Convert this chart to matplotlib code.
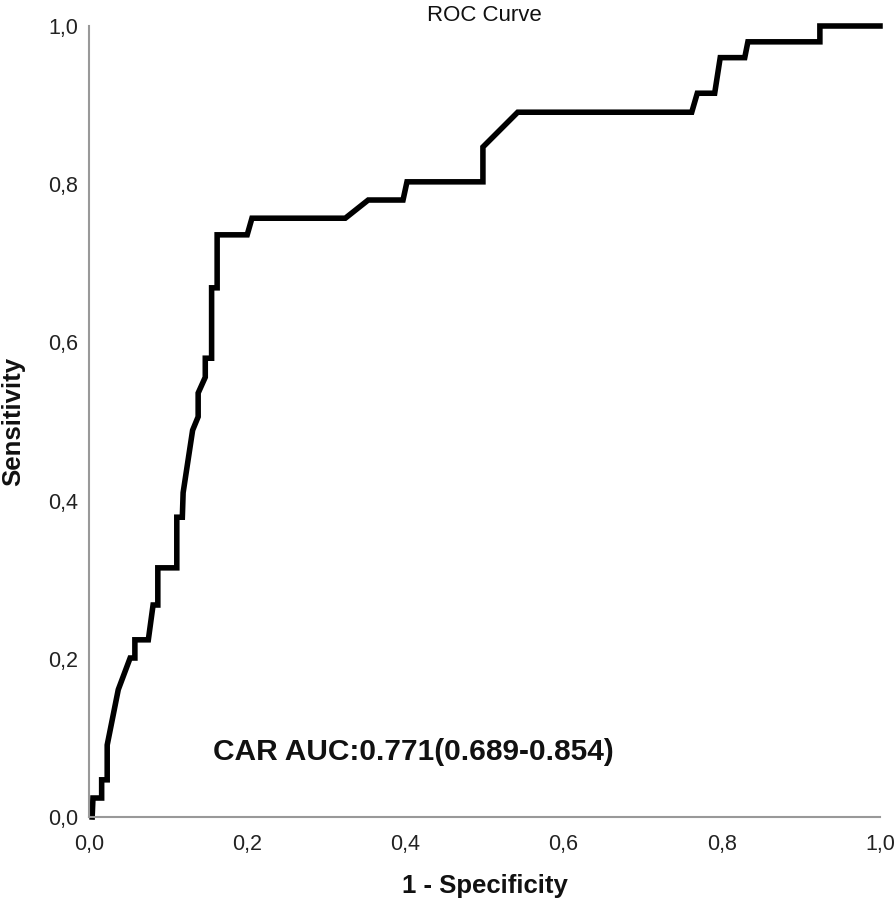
import matplotlib
matplotlib.use('Agg')
import matplotlib.pyplot as plt

# ROC curve points
fpr = [0.004, 0.005, 0.016, 0.016, 0.023, 0.023, 0.037, 0.052, 0.058, 0.058, 0.075,
       0.081, 0.087, 0.087, 0.111, 0.111, 0.118, 0.119, 0.131, 0.138, 0.138, 0.147,
       0.147, 0.155, 0.155, 0.162, 0.162, 0.200, 0.206, 0.324, 0.353, 0.397, 0.402,
       0.498, 0.498, 0.542, 0.762, 0.769, 0.791, 0.798, 0.829, 0.833, 0.924, 0.924, 1.0]
tpr = [0.0, 0.024, 0.024, 0.047, 0.047, 0.091, 0.161, 0.201, 0.201, 0.224, 0.224,
       0.268, 0.268, 0.315, 0.315, 0.379, 0.379, 0.410, 0.489, 0.506, 0.536, 0.556,
       0.580, 0.580, 0.669, 0.669, 0.736, 0.736, 0.757, 0.757, 0.780, 0.780, 0.803,
       0.803, 0.847, 0.891, 0.891, 0.915, 0.915, 0.960, 0.960, 0.980, 0.980, 1.0, 1.0]
ticks = [0.0, 0.2, 0.4, 0.6, 0.8, 1.0]
tick_labels = ['0,0', '0,2', '0,4', '0,6', '0,8', '1,0']

plt.rcParams['font.family'] = ['Liberation Sans', 'DejaVu Sans']

fig = plt.figure(figsize=(8.96, 8.99), dpi=100)
ax = fig.add_axes([89/896, 82/899, 791/896, 791/899])

ax.plot(fpr, tpr, color='black', lw=4.0, clip_on=False, solid_joinstyle='miter')

ax.set_xlim(0, 1)
ax.set_ylim(0, 1)
ax.set_xticks(ticks)
ax.set_xticklabels(tick_labels)
ax.set_yticks(ticks)
ax.set_yticklabels(tick_labels)
ax.tick_params(length=0, labelsize=15.5, colors='#222222')
ax.tick_params(axis='x', pad=12)
ax.tick_params(axis='y', pad=8)

for s in ['top', 'right']:
    ax.spines[s].set_visible(False)
for s in ['left', 'bottom']:
    ax.spines[s].set_color('#999999')
    ax.spines[s].set_linewidth(1.5)

ax.set_title('ROC Curve', fontsize=16, pad=1, color='#111111')
ax.set_xlabel('1 - Specificity', fontsize=18.5, fontweight='bold', labelpad=14, color='#111111')
ax.set_ylabel('Sensitivity', fontsize=18.5, fontweight='bold', labelpad=16, color='#111111')

ax.text(0.157, 0.082, 'CAR AUC:0.771(0.689-0.854)', fontsize=21.5, fontweight='bold',
        va='center', ha='left', color='#111111')

fig.savefig('out.png', dpi=100)
